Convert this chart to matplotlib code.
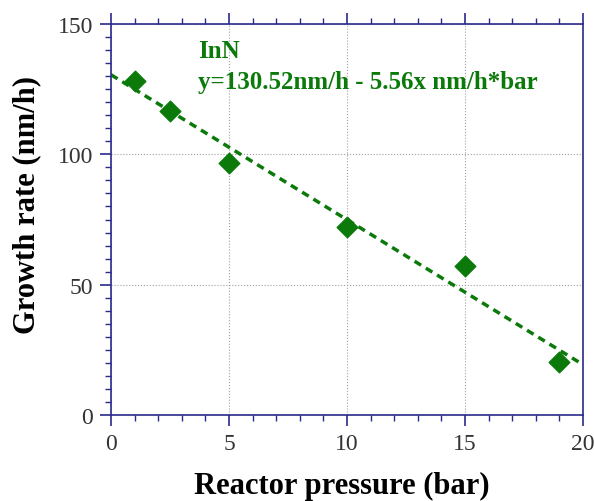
import numpy as np
import matplotlib
matplotlib.use("Agg")
import matplotlib.pyplot as plt
from matplotlib.ticker import MultipleLocator

pressure = [1, 2.5, 5, 10, 15, 19]
growth_rate = [128.2, 116.5, 96.5, 72.3, 57.0, 20.5]
fit_intercept = 130.52
fit_slope = -5.56

green = "#0b7a0b"
navy = "#2a2a8c"

plt.rcParams["font.family"] = ["Liberation Serif", "DejaVu Serif"]

fig = plt.figure(figsize=(5.94, 5.02), dpi=100)
ax = fig.add_axes([0.1869, 0.1713, 0.7946, 0.7789])

fit_x = np.array([0, 20])
ax.plot(fit_x, fit_intercept + fit_slope * fit_x, linestyle=(0, (2.2, 1.6)),
        color=green, linewidth=2.5, zorder=2)
ax.scatter(pressure, growth_rate, marker="D", s=110, color=green, zorder=3)

ax.set_xlim(0, 20)
ax.set_ylim(0, 150)
ax.xaxis.set_major_locator(MultipleLocator(5))
ax.xaxis.set_minor_locator(MultipleLocator(1))
ax.yaxis.set_major_locator(MultipleLocator(50))
ax.yaxis.set_minor_locator(MultipleLocator(5))
ax.grid(True, which="major", linestyle=":", color="#a0a0a0", linewidth=0.8)

for s in ax.spines.values():
    s.set_color(navy)
    s.set_linewidth(1.2)
ax.tick_params(which="both", direction="out", color=navy, top=True,
               labelsize=17, labelcolor="#333333", pad=5)
ax.tick_params(which="major", length=8, width=1.2)
ax.tick_params(which="minor", length=4, width=1.0)

ax.set_xlabel("Reactor pressure (bar)", fontsize=22, fontweight="bold")
ax.set_ylabel("Growth rate (nm/h)", fontsize=22, fontweight="bold")
ax.xaxis.set_label_coords(0.49, -0.142)
ax.yaxis.set_label_coords(-0.147, 0.54)

ax.text(0.184, 0.931, "InN", transform=ax.transAxes, color=green,
        fontsize=18, fontweight="bold", va="center")
ax.text(0.184, 0.854, "y=130.52nm/h - 5.56x nm/h*bar", transform=ax.transAxes,
        color=green, fontsize=18, fontweight="bold", va="center")

fig.savefig("out.png", dpi=100)
